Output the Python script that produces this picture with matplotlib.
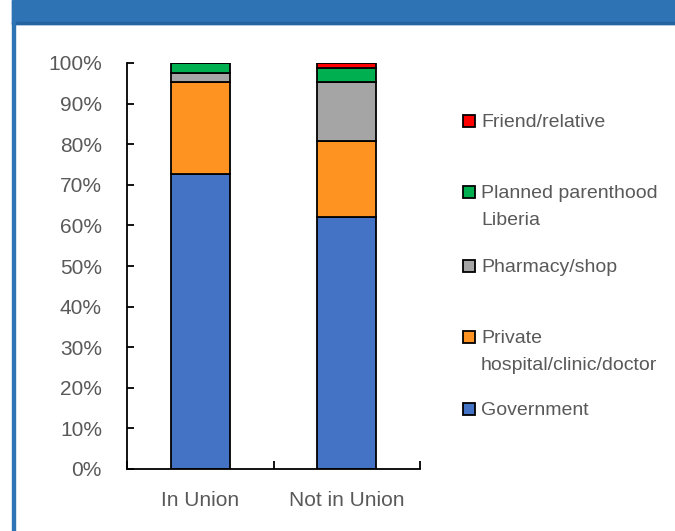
import numpy as np
import matplotlib
matplotlib.use("Agg")
import matplotlib.pyplot as plt
from matplotlib.patches import Rectangle

plt.rcParams['font.family'] = ['Liberation Sans Narrow', 'Liberation Sans', 'DejaVu Sans']

# data (share of users, %)
categories = ['In Union', 'Not in Union']
sources = ['Government', 'Private\nhospital/clinic/doctor', 'Pharmacy/shop',
           'Planned parenthood\nLiberia', 'Friend/relative']
government = [72.7, 62.1]
private = [22.6, 18.8]
pharmacy = [2.3, 14.4]
ppl = [2.3, 3.4]
friend = [0.0, 1.3]
series = [government, private, pharmacy, ppl, friend]
colors = ['#4472C4', '#FF9321', '#A5A5A5', '#00B050', '#FF0000']

gray = '#595959'

fig = plt.figure(figsize=(6.75, 5.31), dpi=100)

# blue header band and left frame line
fig.patches.append(Rectangle((12 / 675, 1 - 24 / 531), 1, 24 / 531,
                             transform=fig.transFigure, color='#2E74B5', zorder=0))
fig.patches.append(Rectangle((12 / 675, 1 - 24 / 531), 1, 1.5 / 531,
                             transform=fig.transFigure, color='#2463A0', zorder=0))
fig.patches.append(Rectangle((12 / 675, 0), 2.5 / 675, 1,
                             transform=fig.transFigure, color='#2E74B5', zorder=0))

ax = fig.add_axes([127 / 675, 1 - 469 / 531, 293 / 675, 406 / 531])

x = np.arange(len(categories))
bottom = np.zeros(len(categories))
for vals, c in zip(series, colors):
    vals = np.array(vals)
    ax.bar(x, vals, 0.4, bottom=bottom, color=c, edgecolor='black', linewidth=1.3)
    bottom += vals

ax.set_xlim(-0.5, 1.5)
ax.set_ylim(0, 100)
ax.set_yticks(np.arange(0, 101, 10))
ax.set_yticklabels([f'{v}%' for v in range(0, 101, 10)])
ax.set_xticks(x)
ax.set_xticklabels(categories)
ax.set_xticks([-0.5, 0.5, 1.5], minor=True)

for s in ['top', 'right']:
    ax.spines[s].set_visible(False)
for s in ['left', 'bottom']:
    ax.spines[s].set_linewidth(1.3)

ax.tick_params(axis='y', direction='in', length=5, width=1.3, pad=18,
               labelsize=15, labelcolor=gray)
ax.tick_params(axis='x', which='major', length=0, pad=16, labelsize=15, labelcolor=gray)
ax.tick_params(axis='x', which='minor', direction='in', length=6, width=1.3)

# legend drawn by hand (top to bottom)
leg_y = [121, 192, 266, 337, 409]
leg_order = [4, 3, 2, 1, 0]
for yy, i in zip(leg_y, leg_order):
    fig.patches.append(Rectangle((463 / 675, 1 - (yy + 6) / 531), 12 / 675, 12 / 531,
                                 transform=fig.transFigure, facecolor=colors[i],
                                 edgecolor='black', linewidth=1.3))
    fig.text(481 / 675, 1 - (yy - 7) / 531, sources[i], fontsize=14, color=gray,
             va='top', ha='left', linespacing=1.75)

fig.savefig('out.png', dpi=100)
